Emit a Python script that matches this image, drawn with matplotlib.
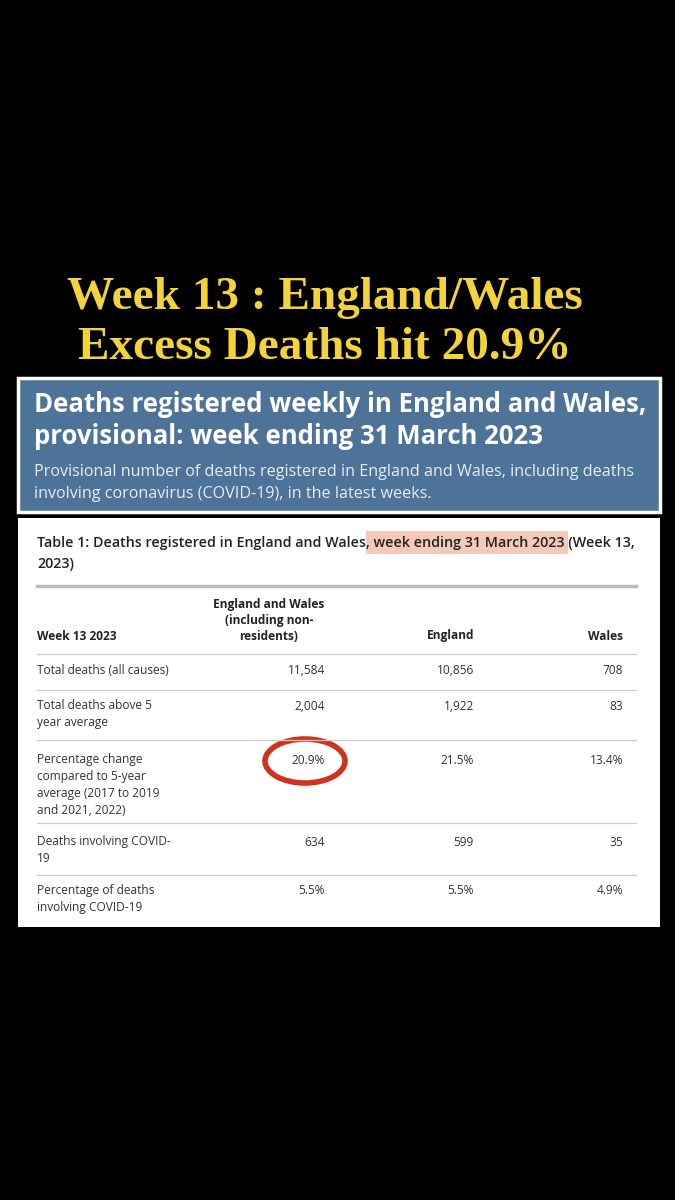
import matplotlib
matplotlib.use("Agg")
import matplotlib.pyplot as plt
from matplotlib.patches import Rectangle, Ellipse

TITLE = ["Week 13 : England/Wales", "Excess Deaths hit 20.9%"]
HEAD_TITLE = ["Deaths registered weekly in England and Wales,",
              "provisional: week ending 31 March 2023"]
HEAD_SUB = ["Provisional number of deaths registered in England and Wales, including deaths",
            "involving coronavirus (COVID-19), in the latest weeks."]
COLUMNS = ["England and Wales\n(including non-\nresidents)", "England", "Wales"]
ROW_LABELS = [
    "Total deaths (all causes)",
    "Total deaths above 5\nyear average",
    "Percentage change\ncompared to 5-year\naverage (2017 to 2019\nand 2021, 2022)",
    "Deaths involving COVID-\n19",
    "Percentage of deaths\ninvolving COVID-19",
]
EW = ["11,584", "2,004", "20.9%", "634", "5.5%"]
ENGLAND = ["10,856", "1,922", "21.5%", "599", "5.5%"]
WALES = ["708", "83", "13.4%", "35", "4.9%"]

ROW_Y = [671, 706, 760, 842, 891]
SEP_Y = [654, 690, 740, 823, 875]
COL_X = [325, 474, 623]
FS = 8.6

fig = plt.figure(figsize=(6.75, 12), dpi=100, facecolor="black")
ax = fig.add_axes([0, 0, 1, 1])
ax.set_xlim(0, 675)
ax.set_ylim(1200, 0)
ax.axis("off")

# yellow headline
for i, line in enumerate(TITLE):
    ax.text(325, 298 + i * 50, line, ha="center", va="center", color="#F2D43A",
            fontsize=34, fontweight="bold", family="Liberation Serif")

# blue banner
ax.add_patch(Rectangle((18, 378), 642, 134, facecolor="#4D7399", edgecolor="white", lw=2.5))
for i, line in enumerate(HEAD_TITLE):
    ax.text(34, 404 + i * 32, line, ha="left", va="center", color="white",
            fontsize=18.5, fontweight="bold", family="Open Sans")
for i, line in enumerate(HEAD_SUB):
    ax.text(34, 472 + i * 22, line, ha="left", va="center", color="#E6EDF4",
            fontsize=11.6, family="Open Sans")

# table card
ax.add_patch(Rectangle((18, 518), 642, 409, facecolor="white", edgecolor="none"))
ax.add_patch(Rectangle((366, 531), 202, 23, facecolor="#F5C9B8", edgecolor="none"))
ax.text(37, 543, "Table 1: Deaths registered in England and Wales, week ending 31 March 2023 (Week 13,",
        ha="left", va="center", fontsize=10.3, fontweight="semibold", color="#222222", family="Open Sans")
ax.text(37, 564, "2023)", ha="left", va="center", fontsize=10.3, fontweight="semibold",
        color="#222222", family="Open Sans")
ax.plot([37, 636], [586, 586], color="#BBBBBB", lw=2.5)

# column headers
ax.text(37, 636, "Week 13 2023", ha="left", va="center", fontsize=FS, fontweight="bold",
        color="#222222", family="Open Sans")
ax.text(269, 643, COLUMNS[0], ha="center", va="bottom", fontsize=FS, fontweight="bold",
        color="#222222", family="Open Sans", multialignment="center", linespacing=1.3)
for x, col in zip(COL_X[1:], COLUMNS[1:]):
    ax.text(x, 636, col, ha="right", va="center", fontsize=FS, fontweight="bold",
            color="#222222", family="Open Sans")

for y in SEP_Y:
    ax.plot([37, 636], [y, y], color="#CCCCCC", lw=0.9)

for y, lab, a, b, c in zip(ROW_Y, ROW_LABELS, EW, ENGLAND, WALES):
    ax.text(37, y - 7, lab, ha="left", va="top", fontsize=FS, color="#333333",
            family="Open Sans", linespacing=1.4)
    for x, v in zip(COL_X, (a, b, c)):
        ax.text(x, y, v, ha="right", va="center", fontsize=FS, color="#333333", family="Open Sans")

# red highlight ring
ax.add_patch(Ellipse((305, 761), 80, 44, facecolor="none", edgecolor="#D2311F", lw=4))

fig.savefig("out.png", dpi=100, facecolor="black")
